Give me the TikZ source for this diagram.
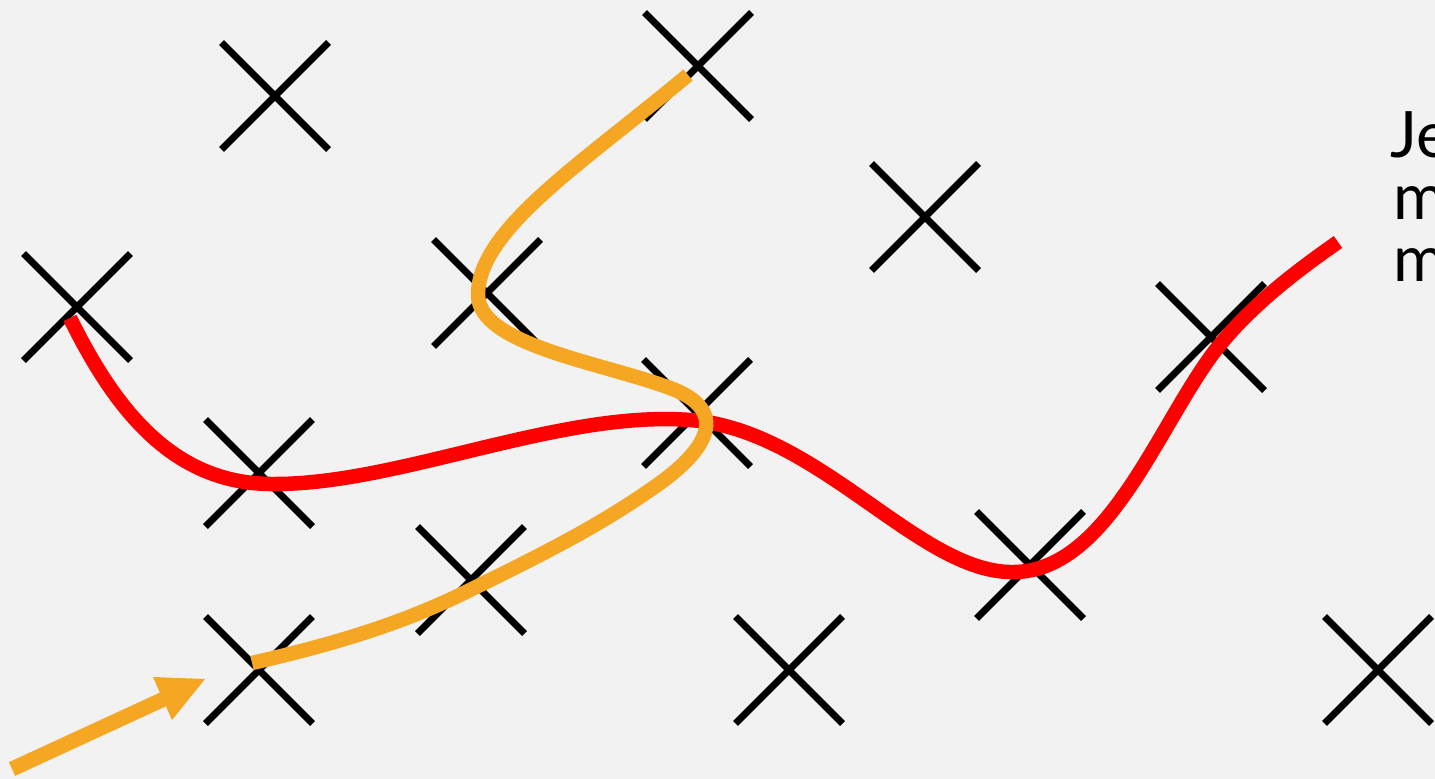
\documentclass[tikz,border=0pt]{standalone}
\usepackage{fontspec}
\setmainfont{Lato}
\definecolor{bg}{HTML}{F2F2F2}
\definecolor{orng}{HTML}{F5A623}
\definecolor{rd}{HTML}{FF0000}
\begin{document}
\begin{tikzpicture}[x=1pt,y=-1pt,
  xmark/.style={draw=black,line width=7pt,line cap=butt},
  redpath/.style={draw=rd,line width=14.5pt,line cap=butt},
  orangepath/.style={draw=orng,line width=14.5pt,line cap=butt},
  txt/.style={anchor=base west,inner sep=0pt,font=\fontsize{64}{64}\selectfont}]
\fill[bg] (0,0) rectangle (1435,779);
\useasboundingbox (0,0) rectangle (1435,779);
% cross centres
\foreach \n/\x/\y in {1/275/96, 2/698/66, 3/925/217, 4/77/307, 5/487/293, 6/1211/337,
  7/697/413, 8/259/473, 9/471/580, 10/1030/565, 11/259/670, 12/789/670, 13/1378/670}
  \coordinate (x\n) at (\x,\y);
\foreach \n in {1,...,13}
  \draw[xmark] (x\n) +(-53.5,-53.5) -- +(53.5,53.5) (x\n) +(-53.5,53.5) -- +(53.5,-53.5);
% red curve
\coordinate (r0) at (70,318);
\coordinate (r1) at (275,484);
\coordinate (r2) at (690,420);
\coordinate (r3) at (1015,572);
\coordinate (r4) at (1218,347);
\coordinate (r5) at (1338,242);
\draw[redpath] (r0) .. controls (120,420) and (180,485) .. (r1)
  .. controls (400,484) and (560,410) .. (r2)
  .. controls (820,430) and (920,575) .. (r3)
  .. controls (1110,570) and (1160,420) .. (r4)
  .. controls (1252,305) and (1295,272) .. (r5);
% orange curve
\coordinate (o0) at (688,75);
\coordinate (o1) at (478,295);
\coordinate (o2) at (670,388);
\coordinate (o3) at (650,490);
\coordinate (o4) at (470,590);
\coordinate (o5) at (252,663);
\draw[orangepath] (o0) .. controls (580,165) and (478,230) .. (o1)
  .. controls (479,345) and (600,362) .. (o2)
  .. controls (730,410) and (710,450) .. (o3)
  .. controls (590,532) and (520,565) .. (o4)
  .. controls (400,625) and (330,645) .. (o5);
% arrow
\coordinate (a0) at (12,769);
\coordinate (a1) at (166,698);
\coordinate (tip) at (205,679);
\draw[draw=orng,line width=15pt,line cap=butt] (a0) -- (a1);
\fill[orng] (tip) -- (153,677) -- (172,720) -- cycle;
% text
\node[txt] (t1) at (1390,157) {Je};
\node[txt] (t2) at (1393,219) {m};
\node[txt] (t3) at (1393,281) {m};
\end{tikzpicture}
\end{document}
